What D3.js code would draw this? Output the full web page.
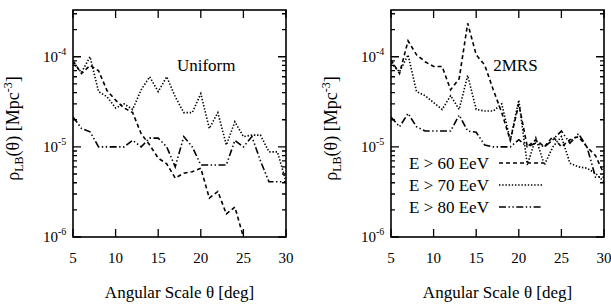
<!DOCTYPE html>
<html>
<head>
<meta charset="utf-8">
<script src="https://cdn.jsdelivr.net/npm/d3@7"></script>
<style>
  body { margin: 0; background: #fff; }
  text { font-family: "Liberation Serif", "Times New Roman", serif; fill: #000; }
  .line { fill: none; stroke: #000; stroke-width: 1.6; }
</style>
</head>
<body>
<div id="chart"></div>
<script>

// angular scale in degrees
var angles = [5, 6, 7, 8, 9, 10, 11, 12, 13, 14, 15, 16, 17, 18, 19, 20,
              21, 22, 23, 24, 25, 26, 27, 28, 29, 30];

// Uniform panel
var uniform60 = [9e-5, 6.5e-5, 8e-5, 7e-5, 4.2e-5, 3.3e-5, 2.7e-5, 2.4e-5, 1.4e-5, 1.05e-5,
                 7.5e-6, 6.5e-6, 4.5e-6, 5.1e-6, 5.3e-6, 5.8e-6, 2.7e-6, 3.2e-6, 1.8e-6, 2.15e-6,
                 1.0e-6, null, null, null, null, null];
var uniform70 = [8.5e-5, 6.7e-5, 1.0e-4, 4.1e-5, 3.6e-5, 2.7e-5, 3.0e-5, 2.6e-5, 4.3e-5, 6.0e-5,
                 4.1e-5, 6.0e-5, 3.6e-5, 2.4e-5, 2.4e-5, 3.9e-5, 1.6e-5, 2.4e-5, 1.05e-5, 1.9e-5,
                 1.3e-5, 1.35e-5, 1.35e-5, 8.8e-6, 8.8e-6, 4.1e-6];
var uniform80 = [2.15e-5, 1.6e-5, 1.47e-5, 1.0e-5, 1.0e-5, 1.0e-5, 1.0e-5, 1.18e-5, 1.0e-5, 1.25e-5,
                 1.25e-5, 1.0e-5, 6.0e-6, 1.3e-5, 1.0e-5, 6.3e-6, 6.3e-6, 6.3e-6, 6.3e-6, 1.18e-5,
                 1.0e-5, 1.3e-5, 7.0e-6, 4.1e-6, 4.1e-6, 4.1e-6];

// 2MRS panel
var mrs60 = [9.2e-5, 6.5e-5, 1.5e-4, 1.05e-4, 8.8e-5, 7.8e-5, 7.8e-5, 4.3e-5, 5.7e-5, 2.35e-4,
             1.05e-4, 8.1e-5, 4.3e-5, 2.4e-5, 1.18e-5, 3.0e-5, 1.0e-5, 1.2e-5, 1.0e-5, 1.3e-5,
             1.0e-5, 1.2e-5, 1.3e-5, 1.0e-5, 8e-6, 5e-6];
var mrs70 = [8.5e-5, 6.8e-5, 1.05e-4, 4.1e-5, 3.7e-5, 3.1e-5, 2.6e-5, 3.7e-5, 2.6e-5, 6.2e-5,
             2.6e-5, 2.5e-5, 2.5e-5, 3.0e-5, 1.18e-5, 3.3e-5, 6.3e-6, 1.25e-5, 6.3e-6, 1.0e-5,
             1.3e-5, 6.6e-6, 6.0e-6, 5.8e-6, 5.1e-6, 4.1e-6];
var mrs80 = [2.15e-5, 1.67e-5, 2.35e-5, 1.67e-5, 1.5e-5, 1.5e-5, 1.5e-5, 1.5e-5, 2.25e-5, 1.5e-5,
             1.45e-5, 1.05e-5, 1.0e-5, 1.0e-5, 1.0e-5, 1.2e-5, 1.0e-5, 1.1e-5, 1.0e-5, 1.2e-5,
             1.5e-5, 1.1e-5, 1.4e-5, 1.0e-5, 4.6e-6, 4.6e-6];

var xTicks = [5, 10, 15, 20, 25, 30];
var yTicks = [1e-6, 1e-5, 1e-4];
var legendLabels = ["E > 60 EeV", "E > 70 EeV", "E > 80 EeV"];
var dashes = ["4,3", "1.4,1.8", "7,2.5,1.4,2.5,1.4,2.5"];

var svg = d3.select("#chart").append("svg")
    .attr("width", 611)
    .attr("height", 305);

function drawPanel(left, title, series, showLegend) {
  var width = 213, height = 227, top = 10;

  var x = d3.scaleLinear().domain([5, 30]).range([0, width]);
  var y = d3.scaleLog().domain([1e-6, 3.3e-4]).range([height, 0]);

  var g = svg.append("g")
      .attr("transform", "translate(" + left + "," + top + ")");

  var clipId = "clip" + left;
  g.append("clipPath").attr("id", clipId)
    .append("rect").attr("width", width).attr("height", height);

  // minor ticks on the log axis
  var minor = [];
  [1e-6, 1e-5, 1e-4].forEach(function(base) {
    for (var k = 2; k <= 9; k++) {
      if (base * k <= 3.3e-4) minor.push(base * k);
    }
  });

  // tick marks pointing inward on all four sides
  g.selectAll(".xt").data(xTicks).enter().append("path")
      .attr("stroke", "#000").attr("stroke-width", 1.3)
      .attr("d", function(d) {
        return "M" + x(d) + "," + height + "v-8M" + x(d) + ",0v8";
      });
  g.selectAll(".yt").data(yTicks).enter().append("path")
      .attr("stroke", "#000").attr("stroke-width", 1.3)
      .attr("d", function(d) {
        return "M0," + y(d) + "h8M" + width + "," + y(d) + "h-8";
      });
  g.selectAll(".ym").data(minor).enter().append("path")
      .attr("stroke", "#000").attr("stroke-width", 1.3)
      .attr("d", function(d) {
        return "M0," + y(d) + "h4M" + width + "," + y(d) + "h-4";
      });

  // x tick labels
  g.selectAll(".xl").data(xTicks).enter().append("text")
      .attr("x", function(d) { return x(d); })
      .attr("y", height + 26)
      .style("text-anchor", "middle")
      .style("font-size", "15px")
      .text(function(d) { return d; });

  // y tick labels as 10^n
  var yl = g.selectAll(".yl").data(yTicks).enter().append("text")
      .attr("x", -30)
      .attr("y", function(d) { return y(d) + 5; })
      .style("font-size", "15px");
  yl.append("tspan").text("10");
  yl.append("tspan")
      .attr("dy", -7)
      .style("font-size", "10px")
      .text(function(d) { return "-" + Math.round(-Math.log10(d)); });

  // the series
  var valueline = d3.line()
      .defined(function(d) { return d[1] != null; })
      .x(function(d) { return x(d[0]); })
      .y(function(d) { return y(d[1]); });

  series.forEach(function(s, i) {
    g.append("path")
        .datum(angles.map(function(a, j) { return [a, s[j]]; }))
        .attr("class", "line")
        .attr("clip-path", "url(#" + clipId + ")")
        .attr("stroke-dasharray", dashes[i])
        .attr("d", valueline);
  });

  // frame
  g.append("rect")
      .attr("width", width).attr("height", height)
      .attr("fill", "none").attr("stroke", "#000").attr("stroke-width", 1.6);

  // panel title
  g.append("text")
      .attr("x", x(title.at))
      .attr("y", 61)
      .style("font-size", "17px")
      .text(title.text);

  // x axis label
  g.append("text")
      .attr("x", width / 2)
      .attr("y", height + 61)
      .style("text-anchor", "middle")
      .style("font-size", "17px")
      .text("Angular Scale θ [deg]");

  // y axis label
  var ylab = g.append("text")
      .attr("transform", "translate(" + (-54) + "," + (height / 2 + 5) + ")rotate(-90)")
      .style("text-anchor", "middle")
      .style("font-size", "18px");
  ylab.append("tspan").text("ρ");
  ylab.append("tspan").attr("dy", 4).style("font-size", "12px").text("LB");
  ylab.append("tspan").attr("dy", -4).text("(θ) [Mpc");
  ylab.append("tspan").attr("dy", -7).style("font-size", "12px").text("-3");
  ylab.append("tspan").attr("dy", 7).text("]");

  // legend
  if (showLegend) {
    legendLabels.forEach(function(label, i) {
      var ly = 163 + i * 22 - top;
      g.append("text")
          .attr("x", 18)
          .attr("y", ly + 6)
          .style("font-size", "17px")
          .text(label);
      g.append("path")
          .attr("class", "line")
          .attr("stroke-dasharray", dashes[i])
          .attr("d", "M108," + ly + "H152");
    });
  }
}

drawPanel(73, {text: "Uniform", at: 17.2}, [uniform60, uniform70, uniform80], false);
drawPanel(391, {text: "2MRS", at: 17.0}, [mrs60, mrs70, mrs80], true);

</script>
</body>
</html>
